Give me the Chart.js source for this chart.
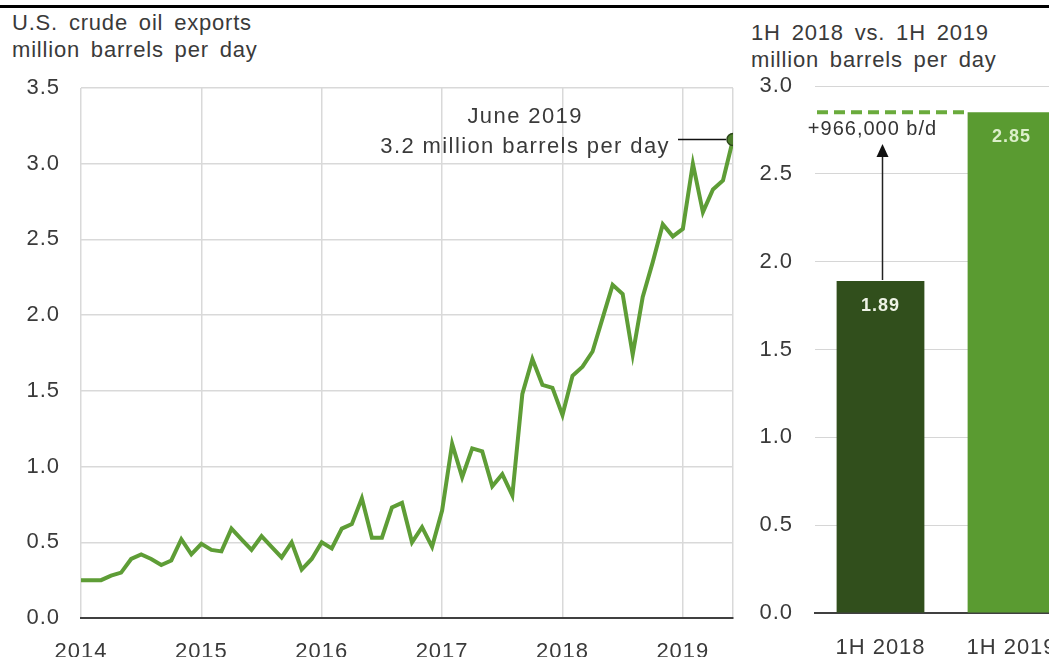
<!DOCTYPE html>
<html>
<head>
<meta charset="utf-8">
<script src="https://cdn.jsdelivr.net/npm/chart.js@4.4.0/dist/chart.umd.min.js"></script>
<style>
  body { margin: 0; width: 1049px; height: 657px; overflow: hidden; background: #fff; position: relative; font-family: "Liberation Sans", Arial, sans-serif; }
  .rule { position: absolute; left: 0; top: 5px; width: 1049px; height: 3px; background: #000; }
  .title { position: absolute; font-size: 22px; line-height: 27px; color: #3a3a3a; letter-spacing: 0.8px; word-spacing: 4px; white-space: nowrap; }
  #leftBox { position: absolute; left: 0; top: 0; width: 745px; height: 657px; }
  #rightBox { position: absolute; left: 740px; top: 0; width: 337px; height: 657px; }
</style>
</head>
<body>
<div class="rule"></div>
<div class="title" style="left:12px; top:9px;">U.S. crude oil exports<br>million barrels per day</div>
<div class="title" style="left:751px; top:19px;">1H 2018 vs. 1H 2019<br>million barrels per day</div>
<div id="leftBox"><canvas id="lineChart"></canvas></div>
<div id="rightBox"><canvas id="barChart"></canvas></div>
<script>
// monthly exports, Jan 2014 - Jun 2019 (million b/d)
const exportsMonthly = [
  0.25, 0.25, 0.25, 0.28, 0.30, 0.39, 0.42, 0.39, 0.35, 0.38, 0.52, 0.42,
  0.49, 0.45, 0.44, 0.59, 0.52, 0.45, 0.54, 0.47, 0.40, 0.50, 0.32, 0.39,
  0.50, 0.46, 0.59, 0.62, 0.79, 0.53, 0.53, 0.73, 0.76, 0.50, 0.60, 0.47,
  0.71, 1.15, 0.93, 1.12, 1.10, 0.87, 0.95, 0.81, 1.48, 1.71, 1.54, 1.52,
  1.34, 1.60, 1.66, 1.76, 1.98, 2.20, 2.14, 1.74, 2.12, 2.35, 2.60, 2.52,
  2.57, 3.00, 2.68, 2.83, 2.89, 3.16
];
const yearLabels = ["2014", "2015", "2016", "2017", "2018", "2019"];

const halfCategories = ["1H 2018", "1H 2019"];
const halfValues = [1.89, 2.85];
const halfColors = ["#314f1c", "#5a9b31"];
const changeLabel = "+966,000 b/d";

const noteLines = ["June 2019", "3.2 million barrels per day"];

const FONT = '"Liberation Sans", Arial, sans-serif';
const TEXT = "#3a3a3a";

const spacing = {
  id: "spacing",
  beforeDraw(chart) { chart.ctx.letterSpacing = "1px"; }
};

const lastIdx = exportsMonthly.length - 1;
const points = exportsMonthly.map((v, i) => ({ x: i, y: v }));

const lineNote = {
  id: "lineNote",
  afterDatasetsDraw(chart) {
    const ctx = chart.ctx;
    const pt = chart.getDatasetMeta(0).data[lastIdx];
    ctx.save();
    ctx.strokeStyle = "#111";
    ctx.lineWidth = 1.5;
    ctx.beginPath();
    ctx.moveTo(pt.x - 55, pt.y);
    ctx.lineTo(pt.x - 7, pt.y);
    ctx.stroke();
    ctx.font = "22px " + FONT;
    ctx.letterSpacing = "1.4px";
    ctx.fillStyle = TEXT;
    ctx.textBaseline = "alphabetic";
    const right = pt.x - 63;
    const w = ctx.measureText(noteLines[1]).width;
    ctx.textAlign = "center";
    ctx.fillText(noteLines[0], right - w / 2, pt.y - 16);
    ctx.textAlign = "right";
    ctx.fillText(noteLines[1], right, pt.y + 14);
    ctx.restore();
  }
};

new Chart(document.getElementById("lineChart"), {
  type: "line",
  data: {
    datasets: [{
      data: points,
      borderColor: "#5e9d36",
      borderWidth: 4,
      tension: 0,
      pointRadius: points.map((p, i) => (i === lastIdx ? 6 : 0)),
      pointBackgroundColor: "#4d7f2c",
      pointBorderColor: "#2c4619",
      pointBorderWidth: 1.5
    }]
  },
  options: {
    responsive: true,
    maintainAspectRatio: false,
    animation: false,
    layout: { padding: { top: 88, right: 12, left: 0, bottom: 0 } },
    plugins: { legend: { display: false }, tooltip: { enabled: false } },
    scales: {
      x: {
        type: "linear",
        min: 0,
        max: lastIdx,
        afterFit: (s) => { s.height = 39; s.paddingLeft = 0; s.paddingRight = 0; },
        grid: { color: "#d9d9d9", lineWidth: 1.5, drawTicks: false },
        border: { color: "#404040", width: 2 },
        ticks: {
          stepSize: 12,
          padding: 21,
          maxRotation: 0,
          autoSkip: false,
          color: TEXT,
          font: { family: FONT, size: 22 },
          callback: (v) => (v % 12 === 0 ? yearLabels[v / 12] : "")
        }
      },
      y: {
        min: 0,
        max: 3.5,
        afterFit: (s) => { s.width = 81; },
        grid: { color: "#d9d9d9", lineWidth: 1.5, drawTicks: false },
        border: { display: false },
        ticks: {
          stepSize: 0.5,
          padding: 21,
          color: TEXT,
          font: { family: FONT, size: 22 },
          callback: (v) => v.toFixed(1)
        }
      }
    }
  },
  plugins: [spacing, lineNote]
});

const barNote = {
  id: "barNote",
  afterDatasetsDraw(chart) {
    const ctx = chart.ctx;
    const bars = chart.getDatasetMeta(0).data;
    const y = chart.scales.y;
    const b1 = bars[0], b2 = bars[1];
    ctx.save();
    // dashed level of 1H 2019
    ctx.strokeStyle = "#6aab3c";
    ctx.lineWidth = 4;
    ctx.setLineDash([11, 6]);
    ctx.beginPath();
    ctx.moveTo(chart.chartArea.left + 2, y.getPixelForValue(halfValues[1]));
    ctx.lineTo(b2.x - b2.width / 2, y.getPixelForValue(halfValues[1]));
    ctx.stroke();
    ctx.setLineDash([]);
    // arrow
    const ax = b1.x + 2;
    const tip = y.getPixelForValue(2.67);
    ctx.strokeStyle = "#222";
    ctx.lineWidth = 1.5;
    ctx.beginPath();
    ctx.moveTo(ax, b1.y - 1);
    ctx.lineTo(ax, tip + 10);
    ctx.stroke();
    ctx.fillStyle = "#111";
    ctx.beginPath();
    ctx.moveTo(ax, tip);
    ctx.lineTo(ax - 6, tip + 13);
    ctx.lineTo(ax + 6, tip + 13);
    ctx.closePath();
    ctx.fill();
    // labels
    ctx.font = "20px " + FONT;
    ctx.fillStyle = "#333";
    ctx.textAlign = "center";
    ctx.textBaseline = "middle";
    ctx.fillText(changeLabel, b1.x - 8, y.getPixelForValue(2.755));
    ctx.font = "bold 18px " + FONT;
    ctx.fillStyle = "#eef3e6";
    ctx.fillText(halfValues[0].toFixed(2), b1.x, b1.y + 25);
    ctx.fillStyle = "#dcefcb";
    ctx.fillText(halfValues[1].toFixed(2), b2.x, b2.y + 25);
    ctx.restore();
  }
};

new Chart(document.getElementById("barChart"), {
  type: "bar",
  data: {
    labels: halfCategories,
    datasets: [{
      data: halfValues,
      backgroundColor: halfColors,
      barPercentage: 0.67,
      categoryPercentage: 1
    }]
  },
  options: {
    responsive: true,
    maintainAspectRatio: false,
    animation: false,
    layout: { padding: { top: 86, right: 0, left: 0, bottom: 0 } },
    plugins: { legend: { display: false }, tooltip: { enabled: false } },
    scales: {
      x: {
        afterFit: (s) => { s.height = 44; },
        grid: { display: false },
        border: { color: "#404040", width: 2 },
        ticks: { padding: 14, color: TEXT, font: { family: FONT, size: 22 } }
      },
      y: {
        min: 0,
        max: 3,
        afterFit: (s) => { s.width = 75; },
        grid: { color: "#d6d6d6", lineWidth: 1, drawTicks: false },
        border: { display: false },
        ticks: {
          stepSize: 0.5,
          padding: 22,
          color: TEXT,
          font: { family: FONT, size: 22 },
          callback: (v) => v.toFixed(1)
        }
      }
    }
  },
  plugins: [spacing, barNote]
});
</script>
</body>
</html>
